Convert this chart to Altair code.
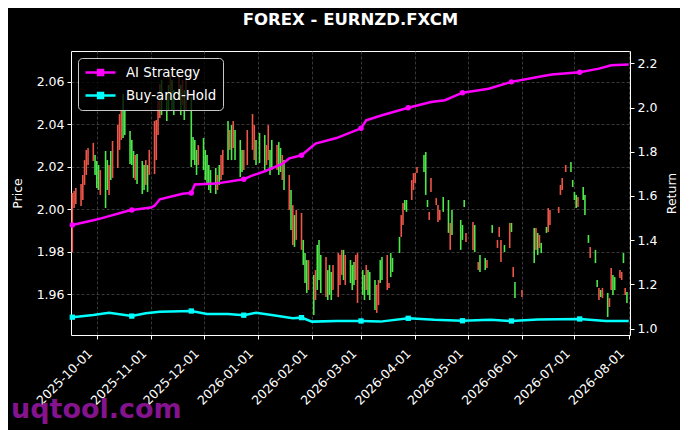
import altair as alt
import pandas as pd

# ---------------- data ----------------
candle_dates = [
    "2025-09-17","2025-09-18","2025-09-19","2025-09-22","2025-09-23","2025-09-24","2025-09-25","2025-09-26","2025-09-29","2025-09-30",
    "2025-10-01","2025-10-02","2025-10-03","2025-10-06","2025-10-07","2025-10-08","2025-10-09","2025-10-10","2025-10-13","2025-10-14",
    "2025-10-15","2025-10-16","2025-10-17","2025-10-20","2025-10-21","2025-10-22","2025-10-23","2025-10-24","2025-10-27","2025-10-28",
    "2025-10-29","2025-10-30","2025-10-31","2025-11-03","2025-11-04","2025-11-05","2025-11-06","2025-11-07","2025-11-10","2025-11-11",
    "2025-11-12","2025-11-13","2025-11-14","2025-11-17","2025-11-18","2025-11-19","2025-11-20","2025-11-21","2025-11-24","2025-11-25",
    "2025-11-26","2025-11-27","2025-11-28","2025-12-01","2025-12-02","2025-12-03","2025-12-04","2025-12-05","2025-12-08","2025-12-09",
    "2025-12-10","2025-12-11","2025-12-12","2025-12-15","2025-12-16","2025-12-17","2025-12-18","2025-12-19","2025-12-22","2025-12-23",
    "2025-12-24","2025-12-26","2025-12-29","2025-12-30","2025-12-31","2026-01-02","2026-01-05","2026-01-06","2026-01-07","2026-01-08",
    "2026-01-09","2026-01-12","2026-01-13","2026-01-14","2026-01-15","2026-01-16","2026-01-19","2026-01-20","2026-01-21","2026-01-22",
    "2026-01-23","2026-01-26","2026-01-27","2026-01-28","2026-01-29","2026-01-30","2026-02-02","2026-02-03","2026-02-04","2026-02-05",
    "2026-02-06","2026-02-09","2026-02-10","2026-02-11","2026-02-12","2026-02-13","2026-02-16","2026-02-17","2026-02-18","2026-02-19",
    "2026-02-20","2026-02-23","2026-02-24","2026-02-25","2026-02-26","2026-02-27","2026-03-02","2026-03-03","2026-03-04","2026-03-05",
    "2026-03-06","2026-03-09","2026-03-10","2026-03-11","2026-03-12","2026-03-13","2026-03-16","2026-03-17","2026-03-18","2026-03-19",
    "2026-03-23","2026-03-24","2026-03-25","2026-03-26","2026-03-27","2026-03-30","2026-03-31","2026-04-01","2026-04-02","2026-04-06",
    "2026-04-07","2026-04-08","2026-04-09","2026-04-10","2026-04-13","2026-04-14","2026-04-15","2026-04-17","2026-04-20","2026-04-21",
    "2026-04-22","2026-04-27","2026-04-28","2026-04-29","2026-04-30","2026-05-04","2026-05-05","2026-05-07","2026-05-08","2026-05-11",
    "2026-05-12","2026-05-15","2026-05-18","2026-05-19","2026-05-20","2026-05-22","2026-05-25","2026-05-26","2026-05-27","2026-05-28",
    "2026-06-01","2026-06-08","2026-06-09","2026-06-10","2026-06-11","2026-06-12","2026-06-15","2026-06-16","2026-06-17","2026-06-22",
    "2026-06-23","2026-06-24","2026-06-26","2026-06-29","2026-06-30","2026-07-01","2026-07-02","2026-07-03","2026-07-06","2026-07-07",
    "2026-07-09","2026-07-10","2026-07-13","2026-07-14","2026-07-15","2026-07-16","2026-07-17","2026-07-20","2026-07-21","2026-07-22",
    "2026-07-23","2026-07-24","2026-07-27","2026-07-28","2026-07-29","2026-07-30","2026-07-31",
]
candle_open = [
    2.0076,2.0085,2.0100,2.0118,2.0161,2.0231,2.0279,2.0288,2.0312,2.0161,
    2.0100,2.0090,2.0184,2.0005,2.0090,2.0208,2.0137,2.0321,2.0396,2.0448,
    2.0467,2.0335,2.0349,2.0213,2.0208,2.0147,2.0255,2.0118,2.0071,2.0090,
    2.0231,2.0081,2.0279,2.0415,2.0420,2.0509,2.0589,2.0443,2.0415,2.0467,
    2.0632,2.0467,2.0443,2.0641,2.0443,2.0608,2.0420,2.0618,2.0198,2.0231,
    2.0208,2.0161,2.0302,2.0184,2.0137,2.0114,2.0090,2.0076,2.0071,2.0161,
    2.0114,2.0255,2.0279,2.0231,2.0373,2.0231,2.0415,2.0231,2.0151,2.0175,
    2.0279,2.0373,2.0448,2.0396,2.0208,2.0217,2.0184,2.0302,2.0396,2.0161,
    2.0184,2.0302,2.0161,2.0175,2.0255,2.0090,2.0161,1.9902,2.0019,1.9822,
    1.9996,1.9982,1.9737,1.9652,1.9605,1.9760,1.9501,1.9713,1.9619,1.9666,
    1.9605,1.9775,1.9572,1.9596,1.9572,1.9737,1.9793,1.9784,1.9808,1.9666,
    1.9784,1.9652,1.9619,1.9643,1.9784,1.9793,1.9596,1.9572,1.9737,1.9596,
    1.9572,1.9525,1.9643,1.9666,1.9652,1.9666,1.9784,1.9652,1.9680,1.9704,
    1.9793,1.9972,2.0029,1.9996,1.9987,2.0137,2.0170,2.0170,2.0198,2.0175,
    2.0067,2.0010,1.9987,2.0147,2.0052,2.0019,1.9996,1.9987,1.9888,1.9935,
    1.9878,1.9808,1.9855,2.0010,1.9888,1.9939,1.9798,1.9751,1.9704,1.9713,
    1.9760,1.9888,1.9855,1.9916,1.9855,1.9798,1.9935,1.9892,1.9727,1.9581,
    1.9619,1.9746,1.9911,1.9784,1.9878,1.9793,1.9888,2.0005,1.9996,2.0010,
    2.0114,2.0147,2.0208,2.0175,2.0104,2.0043,2.0005,2.0057,2.0043,1.9972,
    1.9841,1.9822,1.9746,1.9633,1.9629,1.9586,1.9629,1.9492,1.9581,1.9723,
    1.9596,1.9619,1.9713,1.9704,1.9746,1.9629,1.9558,
]
candle_close = [
    1.9798,2.0005,2.0024,2.0015,2.0043,2.0114,2.0161,2.0208,2.0227,2.0255,
    2.0227,2.0208,2.0067,2.0274,2.0231,2.0067,2.0274,2.0147,2.0194,2.0279,
    2.0326,2.0542,2.0467,2.0368,2.0326,2.0274,2.0137,2.0260,2.0227,2.0208,
    2.0114,2.0208,2.0161,2.0165,2.0231,2.0349,2.0429,2.0608,2.0542,2.0585,
    2.0514,2.0608,2.0561,2.0514,2.0585,2.0490,2.0561,2.0467,2.0528,2.0340,
    2.0326,2.0279,2.0208,2.0335,2.0279,2.0255,2.0208,2.0184,2.0194,2.0090,
    2.0208,2.0137,2.0161,2.0415,2.0279,2.0396,2.0288,2.0373,2.0326,2.0279,
    2.0184,2.0208,2.0279,2.0231,2.0326,2.0359,2.0349,2.0208,2.0231,2.0279,
    2.0326,2.0184,2.0316,2.0288,2.0137,2.0231,1.9996,2.0090,1.9831,1.9972,
    1.9855,1.9808,1.9855,1.9793,1.9760,1.9619,1.9690,1.9572,1.9831,1.9855,
    1.9784,1.9586,1.9713,1.9737,1.9704,1.9619,1.9586,1.9643,1.9690,1.9808,
    1.9643,1.9760,1.9737,1.9751,1.9666,1.9558,1.9713,1.9690,1.9619,1.9713,
    1.9704,1.9666,1.9511,1.9548,1.9760,1.9775,1.9619,1.9629,1.9793,1.9770,
    1.9869,1.9869,1.9925,2.0043,2.0043,2.0043,2.0090,2.0123,2.0170,2.0255,
    2.0269,2.0043,1.9949,2.0081,2.0019,1.9939,1.9949,2.0057,2.0043,1.9808,
    1.9996,1.9949,1.9925,2.0043,1.9845,1.9808,1.9925,1.9713,1.9784,1.9770,
    1.9723,1.9925,1.9817,1.9869,1.9751,1.9831,1.9817,1.9935,1.9680,1.9657,
    1.9586,1.9911,1.9808,1.9888,1.9817,1.9841,1.9916,1.9892,1.9925,1.9982,
    2.0067,2.0090,2.0175,2.0222,2.0137,2.0081,2.0067,2.0010,2.0104,2.0067,
    1.9878,1.9770,1.9808,1.9666,1.9572,1.9619,1.9581,1.9605,1.9539,1.9619,
    1.9690,1.9680,1.9676,1.9666,1.9793,1.9596,1.9610,
]

ai_dates = [
    "2025-09-17","2025-09-29","2025-10-04","2025-10-19","2025-10-21","2025-11-01","2025-11-03","2025-11-06",
    "2025-11-19","2025-11-24","2025-11-26","2025-12-08","2025-12-24","2025-12-28","2026-01-05","2026-01-15",
    "2026-01-19","2026-01-26","2026-02-03","2026-02-15","2026-03-01","2026-03-04","2026-03-13","2026-03-28",
    "2026-04-10","2026-04-18","2026-04-28","2026-05-13","2026-05-26","2026-06-10","2026-06-18","2026-07-04",
    "2026-07-15","2026-07-22","2026-08-01",
]
ai_values = [
    1.469,1.490,1.500,1.533,1.537,1.548,1.556,1.585,
    1.610,1.614,1.652,1.656,1.676,1.690,1.712,1.745,
    1.770,1.784,1.837,1.862,1.906,1.942,1.965,1.999,
    2.025,2.033,2.067,2.085,2.116,2.138,2.149,2.160,
    2.176,2.191,2.195,
]
bh_dates = [
    "2025-09-17","2025-09-29","2025-10-08","2025-10-21","2025-10-29","2025-11-06","2025-11-24","2025-12-03",
    "2025-12-15","2025-12-24","2025-12-31","2026-01-09","2026-01-21","2026-01-26","2026-02-01","2026-02-15",
    "2026-03-01","2026-03-12","2026-03-28","2026-04-12","2026-04-28","2026-05-14","2026-05-26","2026-06-10",
    "2026-07-04","2026-07-19","2026-08-01",
]
bh_values = [
    1.052,1.062,1.072,1.057,1.070,1.077,1.080,1.066,
    1.066,1.061,1.072,1.062,1.047,1.050,1.032,1.035,
    1.035,1.032,1.047,1.040,1.036,1.040,1.035,1.042,
    1.044,1.035,1.035,
]
marker_dates = ["2025-09-17","2025-10-21","2025-11-24","2025-12-24","2026-01-26",
                "2026-03-01","2026-03-28","2026-04-28","2026-05-26","2026-07-04"]

series_names = ["AI Strategy", "Buy-and-Hold"]
series_colors = ["#ff00ff", "#00ffff"]
price_ticks = [1.96, 1.98, 2.00, 2.02, 2.04, 2.06]
return_ticks = [1.0, 1.2, 1.4, 1.6, 1.8, 2.0, 2.2]
month_ticks = [(2025, 10), (2025, 11), (2025, 12), (2026, 1), (2026, 2), (2026, 3),
               (2026, 4), (2026, 5), (2026, 6), (2026, 7), (2026, 8)]
title_text = "FOREX - EURNZD.FXCM"
watermark = "uqtool.com"

# ---------------- tables ----------------
cdf = pd.DataFrame({"date": candle_dates, "open": candle_open, "close": candle_close})
ai_df = pd.DataFrame({"date": ai_dates, "value": ai_values, "series": series_names[0]})
bh_df = pd.DataFrame({"date": bh_dates, "value": bh_values, "series": series_names[1]})
ldf = pd.concat([ai_df, bh_df], ignore_index=True)
ai_marks = ai_df[ai_df["date"].isin(marker_dates)]
bh_marks = bh_df[bh_df["date"].isin(marker_dates)]

FONT = "DejaVu Sans"
GREEN = "#4de84a"
RED = "#ec5547"
GRID = "#4f4f4f"

xscale = alt.Scale(
    type="utc",
    domain=[alt.DateTime(year=2025, month=9, date=16, hours=6, utc=True),
            alt.DateTime(year=2026, month=8, date=1, hours=18, utc=True)],
)
xaxis = alt.Axis(
    values=[alt.DateTime(year=y, month=m, date=1, utc=True) for y, m in month_ticks],
    labelExpr="utcFormat(datum.value, '%Y-%m-%d')",
    labelAngle=315, labelAlign="right", labelBaseline="middle",
    labelPadding=12, labelOffset=-7, labelFontSize=12.5, labelColor="white",
    tickColor="white", tickSize=4, domain=False,
    grid=True, gridColor=GRID, gridDash=[3, 2], gridWidth=0.7,
    title=None, labelOverlap=False,
)

candles = alt.Chart(cdf).mark_rule(strokeWidth=1.6).encode(
    x=alt.X("date:T", scale=xscale, axis=xaxis),
    y=alt.Y("open:Q",
            scale=alt.Scale(domain=[1.9407, 2.0745], nice=False, zero=False),
            axis=alt.Axis(orient="left", values=price_ticks, format=".2f", title="Price",
                          titleFontWeight="normal", titleFontSize=12.5, titleColor="white",
                          titlePadding=12, labelFontSize=12.5, labelColor="white",
                          labelPadding=3, tickColor="white", tickSize=4, domain=False,
                          grid=True, gridColor=GRID, gridDash=[3, 2], gridWidth=0.7)),
    y2="close:Q",
    color=alt.condition("datum.close >= datum.open", alt.value(GREEN), alt.value(RED)),
)

ret_scale = alt.Scale(domain=[0.9715, 2.2556], nice=False, zero=False)
# legend glyph: a 30px line with a small marker in its middle (symbol unit = 7px)
legend_symbol = "M-1,0H3.286M0.8,-0.36H1.5V0.36H0.8Z"

lines = alt.Chart(ldf).mark_line(strokeWidth=2.5).encode(
    x=alt.X("date:T", scale=xscale),
    y=alt.Y("value:Q", scale=ret_scale,
            axis=alt.Axis(orient="right", values=return_ticks, format=".1f", title="Return",
                          titleFontWeight="normal", titleFontSize=12.5, titleColor="white",
                          titleAngle=270, titleBaseline="top",
                          titlePadding=9, labelFontSize=12.5, labelColor="white",
                          labelPadding=3, tickColor="white", tickSize=4, domain=False,
                          grid=False)),
    color=alt.Color("series:N",
                    scale=alt.Scale(domain=series_names, range=series_colors),
                    legend=alt.Legend(title=None, orient="top-left", offset=7,
                                      symbolType=legend_symbol, symbolSize=196,
                                      symbolStrokeWidth=2.5, labelFontSize=13.3,
                                      labelColor="white", labelOffset=25, padding=6,
                                      rowPadding=6, fillColor="rgba(0,0,0,0.78)",
                                      strokeColor="#c8c8c8", cornerRadius=4)),
)

ai_points = alt.Chart(ai_marks).mark_point(
    filled=True, size=30, opacity=1, shape="circle", color=series_colors[0]
).encode(x=alt.X("date:T", scale=xscale), y=alt.Y("value:Q", scale=ret_scale))

bh_points = alt.Chart(bh_marks).mark_point(
    filled=True, size=28, opacity=1, shape="square", color=series_colors[1]
).encode(x=alt.X("date:T", scale=xscale), y=alt.Y("value:Q", scale=ret_scale))

wm = alt.Chart(pd.DataFrame({"t": [watermark]})).mark_text(
    align="left", baseline="alphabetic", font=FONT, fontSize=27, fontWeight="bold",
    color="#8c1596", opacity=0.95,
).encode(text="t:N", x=alt.value(-60), y=alt.value(367))

chart = alt.layer(
    candles, alt.layer(lines, ai_points, bh_points), wm
).resolve_scale(y="independent").properties(
    width=559, height=284,
    autosize=alt.AutoSizeParams(type="none"),
    padding={"left": 63, "top": 43, "right": 50, "bottom": 95},
    background="black",
    title=alt.TitleParams(title_text, color="white", fontSize=16.5, fontWeight="bold",
                          font=FONT, anchor="middle", offset=23),
).configure(font=FONT).configure_view(stroke="white", strokeWidth=1)

chart.save("out.html", embed_options={"renderer": "svg", "actions": False})
